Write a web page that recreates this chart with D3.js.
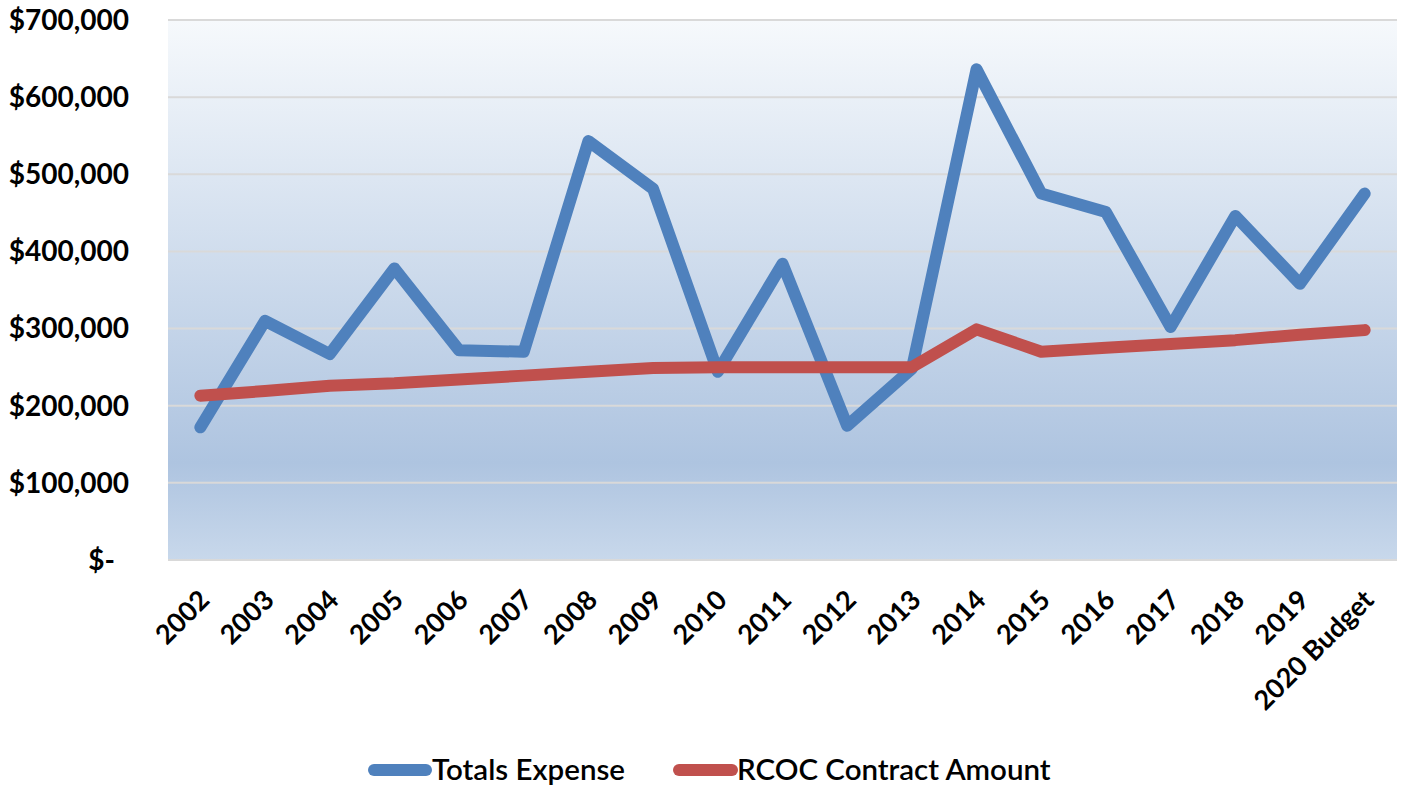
<!DOCTYPE html>
<html>
<head>
<meta charset="utf-8">
<script src="https://cdn.jsdelivr.net/npm/d3@7"></script>
<style>
    body { margin: 0; background: #fff; }
    svg text { font-family: Lato, "Open Sans", sans-serif; fill: #000; }
</style>
</head>
<body>
<svg id="chart" width="1406" height="788"></svg>
<script>
// Data
const years = ['2002', '2003', '2004', '2005', '2006', '2007', '2008', '2009', '2010', '2011',
    '2012', '2013', '2014', '2015', '2016', '2017', '2018', '2019', '2020 Budget'];
const totalsExpense = [172000, 310000, 267000, 378000, 272000, 270000, 543000, 481000, 244000, 384000,
    174000, 248000, 636000, 475000, 451000, 302000, 446000, 358000, 475000];
const rcocContract = [213000, 219000, 226000, 229000, 234000, 239000, 244000, 249000, 250000, 250000,
    250000, 250000, 299000, 270000, 275000, 280000, 285000, 292000, 298000];
const yTicks = [0, 100000, 200000, 300000, 400000, 500000, 600000, 700000];
const seriesNames = ['Totals Expense', 'RCOC Contract Amount'];
const seriesColors = ['#4f81bd', '#c0504d'];

// Layout
const plot = { left: 168, right: 1397, top: 20, bottom: 560 };
const svg = d3.select('#chart');

const x = d3.scalePoint()
    .domain(years)
    .range([plot.left, plot.right])
    .padding(0.5);

const y = d3.scaleLinear()
    .domain([0, 700000])
    .range([plot.bottom, plot.top]);

// Background gradient
const defs = svg.append('defs');
const grad = defs.append('linearGradient')
    .attr('id', 'bg')
    .attr('x1', 0).attr('y1', 0).attr('x2', 0).attr('y2', 1);
grad.append('stop').attr('offset', '0%').attr('stop-color', '#f6f9fc');
grad.append('stop').attr('offset', '82%').attr('stop-color', '#aec4e0');
grad.append('stop').attr('offset', '100%').attr('stop-color', '#c8d8eb');

svg.append('rect')
    .attr('x', plot.left)
    .attr('y', plot.top)
    .attr('width', plot.right - plot.left)
    .attr('height', plot.bottom - plot.top)
    .attr('fill', 'url(#bg)');

// Gridlines
svg.append('g')
    .selectAll('line')
    .data(yTicks)
    .enter()
    .append('line')
    .attr('x1', plot.left)
    .attr('x2', plot.right)
    .attr('y1', d => y(d))
    .attr('y2', d => y(d))
    .attr('stroke', '#d9d9d9')
    .attr('stroke-width', 2);

// Y axis labels
const fmt = d3.format('$,.0f');
svg.append('g')
    .selectAll('text')
    .data(yTicks)
    .enter()
    .append('text')
    .attr('x', d => d === 0 ? 115 : 129)
    .attr('y', d => y(d))
    .attr('dy', '0.35em')
    .attr('text-anchor', 'end')
    .style('font-size', '28px')
    .style('font-weight', 'bold')
    .text(d => d === 0 ? '$-' : fmt(d));

// X axis labels
svg.append('g')
    .selectAll('text')
    .data(years)
    .enter()
    .append('text')
    .attr('transform', d => `translate(${x(d) + 4}, ${plot.bottom + 35}) rotate(-45)`)
    .attr('text-anchor', 'end')
    .attr('dy', '0.35em')
    .style('font-size', '27px')
    .style('font-weight', 'bold')
    .text(d => d);

// Lines
const line = d3.line()
    .x((d, i) => x(years[i]))
    .y(d => y(d));

[totalsExpense, rcocContract].forEach((values, i) => {
    svg.append('path')
        .datum(values)
        .attr('d', line)
        .attr('fill', 'none')
        .attr('stroke', seriesColors[i])
        .attr('stroke-width', 12)
        .attr('stroke-linejoin', 'round')
        .attr('stroke-linecap', 'round');
});

// Legend
const legendItems = [
    { x1: 374, x2: 426, tx: 432 },
    { x1: 679, x2: 732, tx: 737 }
];
const legend = svg.append('g');
legendItems.forEach((item, i) => {
    legend.append('line')
        .attr('x1', item.x1)
        .attr('x2', item.x2)
        .attr('y1', 770)
        .attr('y2', 770)
        .attr('stroke', seriesColors[i])
        .attr('stroke-width', 12)
        .attr('stroke-linecap', 'round');
    legend.append('text')
        .attr('x', item.tx)
        .attr('y', 770)
        .attr('dy', '0.35em')
        .style('font-size', '29.5px')
        .style('font-weight', '600')
        .text(seriesNames[i]);
});
</script>
</body>
</html>
